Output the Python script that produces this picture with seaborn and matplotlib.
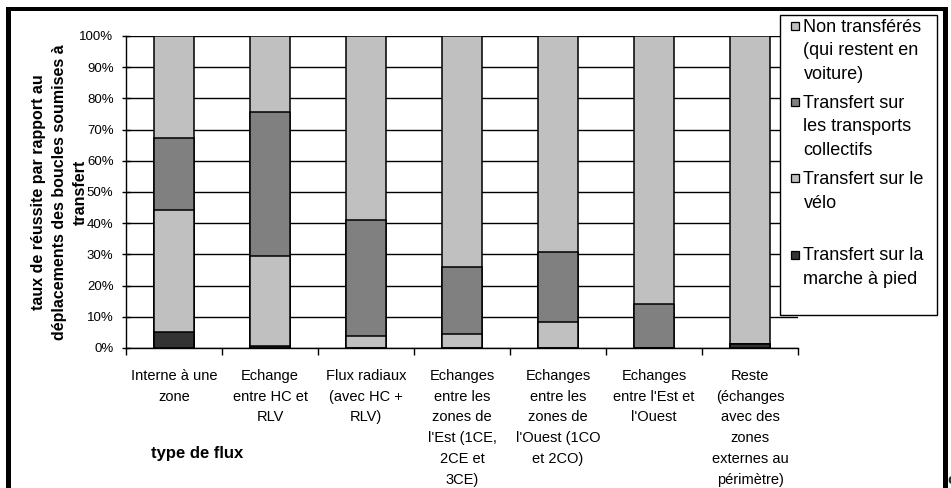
import numpy as np
import pandas as pd
import matplotlib
matplotlib.use("Agg")
import matplotlib.pyplot as plt
import seaborn as sns
from matplotlib.patches import Patch, Rectangle
from matplotlib.legend_handler import HandlerPatch
from matplotlib.ticker import PercentFormatter
from matplotlib.font_manager import FontProperties

# ---------------- data ----------------
categories = [
    "Interne à une\nzone",
    "Echange\nentre HC et\nRLV",
    "Flux radiaux\n(avec HC +\nRLV)",
    "Echanges\nentre les\nzones de\nl'Est (1CE,\n2CE et\n3CE)",
    "Echanges\nentre les\nzones de\nl'Ouest (1CO\net 2CO)",
    "Echanges\nentre l'Est et\nl'Ouest",
    "Reste\n(échanges\navec des\nzones\nexternes au\npérimètre)",
]
marche = [5.1, 0.6, 0.0, 0.0, 0.0, 0.0, 1.2]
velo = [39.0, 29.0, 3.9, 4.6, 8.3, 0.0, 0.0]
tc = [23.1, 45.9, 37.1, 21.5, 22.4, 14.1, 0.0]
non = [32.8, 24.5, 59.0, 73.9, 69.3, 85.9, 98.8]

series_labels = [
    "Non transférés\n(qui restent en\nvoiture)",
    "Transfert sur\nles transports\ncollectifs",
    "Transfert sur le\nvélo\n",
    "Transfert sur la\nmarche à pied\n",
]
series_colors = ["#C0C0C0", "#808080", "#C0C0C0", "#333333"]
yticks = [0, 10, 20, 30, 40, 50, 60, 70, 80, 90, 100]
ylabel = "taux de réussite par rapport au\ndéplacements des boucles soumises à\ntransfert"
xlabel = "type de flux"

# ---------------- style ----------------
sns.set_theme(style="white")
plt.rcParams["font.family"] = ["Liberation Sans", "DejaVu Sans"]

W, H = 951, 488
fig = plt.figure(figsize=(W / 100, H / 100), dpi=100)
ax = fig.add_axes([126 / W, 1 - 348 / H, 672 / W, 312 / H])

df = pd.DataFrame({"cat": categories, "marche": marche, "velo": velo, "tc": tc, "non": non})
df["c1"] = df["marche"]
df["c2"] = df["c1"] + df["velo"]
df["c3"] = df["c2"] + df["tc"]
df["c4"] = df["c3"] + df["non"]

for col, color in [("c4", series_colors[0]), ("c3", series_colors[1]),
                   ("c2", series_colors[2]), ("c1", series_colors[3])]:
    sns.barplot(data=df, x="cat", y=col, order=categories, color=color, saturation=1,
                width=0.42, edgecolor="black", linewidth=1.1, errorbar=None, ax=ax)

ax.set_xlim(-0.5, 6.5)
ax.set_ylim(0, 100)
ax.set_yticks(yticks)
ax.yaxis.set_major_formatter(PercentFormatter(decimals=0))
ax.grid(axis="y", color="black", linewidth=1.0)
ax.grid(axis="x", visible=False)
ax.set_axisbelow(True)

ax.set_xticks(range(len(categories)), labels=categories, linespacing=1.62)
ax.set_xticks(np.arange(-0.5, len(categories) + 0.5, 1), minor=True)
ax.tick_params(axis="x", which="major", length=0, pad=15, labelsize=10.5, labelcolor="black")
ax.tick_params(axis="x", which="minor", length=5, width=1, direction="out", color="black", bottom=True)
ax.tick_params(axis="y", which="major", length=6, width=1, direction="inout", color="black",
               pad=6, labelsize=9.5, labelcolor="black", left=True)

for s in ["top", "right"]:
    ax.spines[s].set_visible(False)
for s in ["left", "bottom"]:
    ax.spines[s].set_color("black")
    ax.spines[s].set_linewidth(1.0)

ax.set_ylabel(ylabel, fontsize=11.5, fontweight="bold", linespacing=1.5, color="black")
ax.yaxis.set_label_coords((88 - 126) / 672, 0.5)
ax.set_xlabel(xlabel, fontsize=12, fontweight="bold", color="black")
ax.xaxis.set_label_coords((197 - 126) / 672, (348 - 446) / 312)
ax.xaxis.label.set_va("top")

# ---------------- legend ----------------
leg_fs = 13
leg_ls = 1.52
renderer = fig.canvas.get_renderer()
lh, ld = renderer.get_text_width_height_descent("lp", FontProperties(family=["Liberation Sans"], size=leg_fs), ismath=False)[1:]
pitch_pt = (lh - ld) * leg_ls * 72 / fig.dpi
sq_pt = 8 * 72 / fig.dpi
lift_pt = 5 * 72 / fig.dpi


class TopSquare(HandlerPatch):
    def __init__(self, shift, **kw):
        super().__init__(**kw)
        self.shift = shift

    def create_artists(self, legend, orig_handle, xdescent, ydescent, width, height, fontsize, trans):
        p = Rectangle((-xdescent + width - sq_pt, -ydescent + (height - sq_pt) / 2 + self.shift),
                      sq_pt, sq_pt)
        self.update_prop(p, orig_handle, legend)
        p.set_transform(trans)
        return [p]


handles = [Patch(facecolor=c, edgecolor="black", linewidth=0.9) for c in series_colors]
hmap = {h: TopSquare(pitch_pt + lift_pt) for h in handles}
leg = fig.legend(handles, series_labels, loc="upper left",
                 bbox_to_anchor=(780 / W, 1 - 323 / H, 157 / W, 308 / H), bbox_transform=fig.transFigure,
                 mode="expand", frameon=True, fancybox=False, edgecolor="black", framealpha=1,
                 fontsize=leg_fs, handlelength=0.85, handleheight=0.7, handletextpad=0.25,
                 labelspacing=0.64, borderpad=0.2, borderaxespad=0, handler_map=hmap)
leg.get_frame().set_linewidth(1.0)
for t in leg.get_texts():
    t.set_linespacing(leg_ls)
    t.set_color("black")

# ---------------- outer frame ----------------
for (x0, y0, w, h) in [(6, 7, 5, 481), (6, 7, 942, 4), (943, 7, 5, 481)]:
    fig.add_artist(Rectangle((x0 / W, 1 - (y0 + h) / H), w / W, h / H, transform=fig.transFigure,
                             facecolor="black", edgecolor="none"))
fig.text(947 / W, 1 - 480 / H, "c", fontsize=11, fontweight="bold", va="center", ha="left")

fig.savefig("out.png", dpi=100)
